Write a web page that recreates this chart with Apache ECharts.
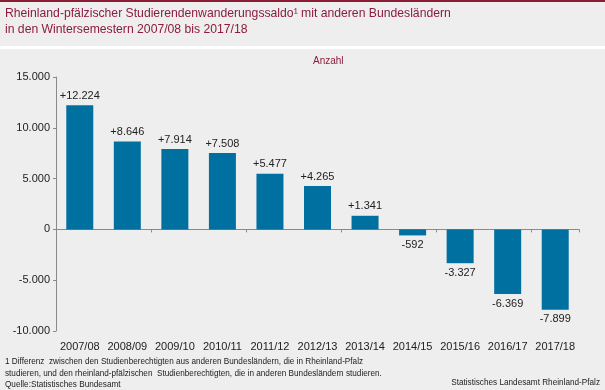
<!DOCTYPE html>
<html><head><meta charset="utf-8">
<script src="https://cdn.jsdelivr.net/npm/echarts@6/dist/echarts.min.js"></script>
<style>html,body{margin:0;padding:0;background:#eeeeee}#c{width:605px;height:390px}</style>
</head><body><div id="c"></div>
<script>
const categories = ['2007/08','2008/09','2009/10','2010/11','2011/12','2012/13','2013/14','2014/15','2015/16','2016/17','2017/18'];
const saldo = [12224, 8646, 7914, 7508, 5477, 4265, 1341, -592, -3327, -6369, -7899];
const yTicks = [-10000, -5000, 0, 5000, 10000, 15000];

function fmt(v){
  const s = Math.abs(v).toString().replace(/\B(?=(\d{3})+(?!\d))/g, '.');
  return (v < 0 ? '-' : '') + s;
}
const red = '#8c1c3c';
const font = 'Liberation Sans, Arial, sans-serif';
const chart = echarts.init(document.getElementById('c'), null, {renderer:'canvas'});
chart.setOption({
  backgroundColor: '#eeeeee',
  animation: false,
  grid: {left: 56, right: 26, top: 77, bottom: 59},
  graphic: [
    {type:'rect', shape:{x:0,y:0,width:605,height:2}, style:{fill:'#8a1c33'}},
    {type:'rect', shape:{x:0,y:46,width:605,height:3}, style:{fill:'#ffffff'}},
    {type:'text', left:5, top:6, style:{text:'Rheinland-pfälzischer Studierendenwanderungssaldo¹ mit anderen Bundesländern\nin den Wintersemestern 2007/08 bis 2017/18', fill:red, font:'12.2px '+font, lineHeight:16}},
    {type:'text', left:313, top:56, style:{text:'Anzahl', fill:red, font:'10px '+font}},
    {type:'text', left:5, top:356, style:{text:'1 Differenz  zwischen den Studienberechtigten aus anderen Bundesländern, die in Rheinland-Pfalz\nstudieren, und den rheinland-pfälzischen  Studienberechtigten, die in anderen Bundesländern studieren.\nQuelle:Statistisches Bundesamt', fill:'#222', font:'8.2px '+font, lineHeight:11.5}},
    {type:'text', right:5, top:379, style:{text:'Statistisches Landesamt Rheinland-Pfalz', fill:'#222', font:'8.2px '+font}}
  ],
  xAxis: [
    {type:'category', data: categories,
     axisLine:{onZero:true, lineStyle:{color:'#8a8a8a'}},
     axisTick:{show:true, length:3, lineStyle:{color:'#8a8a8a'}},
     axisLabel:{show:false}},
    {type:'category', data: categories, position:'bottom', offset:0,
     axisLine:{show:false, onZero:false}, axisTick:{show:false},
     axisLabel:{color:'#222', fontSize:11, fontFamily:font, margin:10, interval:0}}
  ],
  yAxis: {
    type:'value', min:-10000, max:15000, interval:5000,
    axisLine:{show:true, lineStyle:{color:'#8a8a8a'}},
    axisTick:{show:true, length:3, lineStyle:{color:'#8a8a8a'}},
    splitLine:{show:false},
    axisLabel:{color:'#222', fontSize:11, fontFamily:font, margin:6, formatter: v => fmt(v)}
  },
  series: [
    {type:'bar', data: saldo.map(v => ({value:v, label:{position: v < 0 ? 'bottom' : 'top'}})), barWidth:27, itemStyle:{color:'#0070a0'},
     label:{show:true, color:'#222', fontSize:11, fontFamily:font, distance:4,
       formatter: p => (p.value > 0 ? '+' : '') + fmt(p.value)}},
    {type:'bar', xAxisIndex:1, data: [], silent:true}
  ]
});
</script></body></html>
